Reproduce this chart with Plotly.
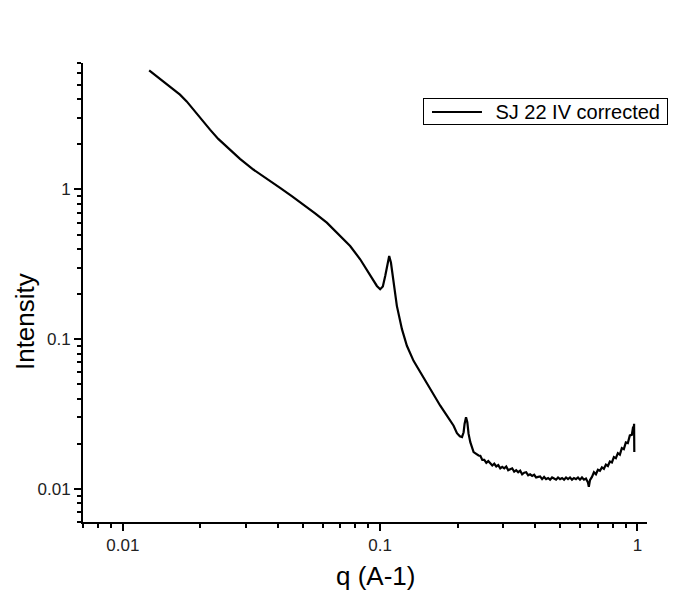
import plotly.graph_objects as go

# values (q in A^-1, intensity in a.u.)
q_smooth = [0.01265, 0.01393, 0.01524, 0.01667, 0.01770, 0.01877, 0.02024,
            0.02181, 0.02348, 0.02532, 0.02852, 0.03214, 0.03624, 0.04083,
            0.04534, 0.05030, 0.05586, 0.06203, 0.06389, 0.06990, 0.07643,
            0.08360, 0.0914, 0.09709, 0.1000, 0.1024, 0.1046, 0.1068, 0.1084,
            0.1101, 0.1127, 0.1161, 0.1215, 0.1270, 0.1348, 0.1431, 0.1519,
            0.1612, 0.1712, 0.1817, 0.1929, 0.1988, 0.2040, 0.2080, 0.2110,
            0.2128, 0.2156, 0.2181, 0.2206, 0.2240, 0.2307, 0.2412]
i_smooth = [6.24, 5.50, 4.884, 4.30, 3.878, 3.415, 2.929,
            2.51, 2.178, 1.944, 1.602, 1.359, 1.184, 1.026,
            0.902, 0.794, 0.692, 0.600, 0.569, 0.488, 0.419,
            0.3415, 0.264, 0.2266, 0.2154, 0.2246, 0.264, 0.3246, 0.359,
            0.3246, 0.2388, 0.1668, 0.1166, 0.0902, 0.0716, 0.0603, 0.0501,
            0.0419, 0.0359, 0.0308, 0.0264, 0.0235, 0.0224, 0.02213, 0.02387,
            0.0271, 0.0301, 0.02784, 0.02326, 0.0205, 0.01757, 0.01668]

q_noisy = [0.245, 0.2494, 0.2539, 0.2585, 0.2631, 0.2679, 0.2727, 0.2776,
           0.2826, 0.2877, 0.2929, 0.2981, 0.3035, 0.3090, 0.3145, 0.3202,
           0.3259, 0.3318, 0.3378, 0.3438, 0.3500, 0.3563, 0.3628, 0.3693,
           0.3759, 0.3827, 0.3896, 0.3966, 0.4037, 0.4110, 0.4184, 0.4259,
           0.4336, 0.4414, 0.4493, 0.4574, 0.4656, 0.4740, 0.4826, 0.4912,
           0.5001, 0.5091, 0.5183, 0.5276, 0.5371, 0.5468, 0.5566, 0.5666,
           0.5768, 0.5872, 0.5978, 0.6086, 0.6195, 0.6307, 0.6420, 0.6470,
           0.6536, 0.6654, 0.6773, 0.6895, 0.7019, 0.7146, 0.7274, 0.7405,
           0.7539, 0.7674, 0.7812, 0.7953, 0.8096, 0.8242, 0.8390, 0.8541,
           0.8695, 0.8852, 0.9011, 0.9173, 0.9338, 0.9506, 0.9600, 0.9677,
           0.9700, 0.9720]
i_noisy = [0.0166, 0.0156, 0.0156, 0.0149, 0.0153, 0.0148, 0.0143, 0.0147,
           0.0141, 0.0144, 0.0137, 0.0140, 0.0137, 0.0141, 0.0133, 0.0135,
           0.0137, 0.0130, 0.0133, 0.0129, 0.0132, 0.0125, 0.0128, 0.0129,
           0.0123, 0.0125, 0.0122, 0.0124, 0.0119, 0.0120, 0.0121, 0.0116,
           0.0120, 0.0116, 0.0118, 0.0115, 0.0119, 0.0117, 0.0115, 0.0119,
           0.0116, 0.0118, 0.0115, 0.0119, 0.0116, 0.0119, 0.0115, 0.0118,
           0.0116, 0.0119, 0.0115, 0.0119, 0.0115, 0.0117, 0.0110, 0.0103,
           0.0114, 0.0120, 0.0129, 0.0125, 0.0134, 0.0132, 0.0139, 0.0136,
           0.0145, 0.0142, 0.0152, 0.0150, 0.0163, 0.0160, 0.0173, 0.0169,
           0.0187, 0.0184, 0.0204, 0.0202, 0.0227, 0.0229, 0.0255, 0.0253,
           0.0272, 0.0176]

q = q_smooth + q_noisy
intensity = i_smooth + i_noisy
series_name = "SJ 22 IV corrected"

FONT = "Liberation Sans, Arial, sans-serif"

fig = go.Figure()
fig.add_trace(
    go.Scatter(
        x=q,
        y=intensity,
        mode="lines",
        name=series_name,
        line=dict(color="black", width=2.2),
    )
)

axis_common = dict(
    type="log",
    dtick=1,
    showline=True,
    linecolor="black",
    linewidth=2,
    ticks="outside",
    ticklen=7,
    tickwidth=1.5,
    tickcolor="black",
    showgrid=False,
    zeroline=False,
    tickfont=dict(family=FONT, size=17, color="#222"),
    minor=dict(ticks="outside", ticklen=4, tickwidth=1.5, tickcolor="black",
               dtick="D1", showgrid=False),
)
fig.update_xaxes(range=[-2.155, 0.037], **axis_common)
fig.update_yaxes(range=[-2.222, 0.845], **axis_common)

# page body adds an 8px offset, so the figure is 8px smaller than the window
fig.update_layout(
    width=670,
    height=586,
    margin=dict(l=75, r=31, t=55, b=72),
    plot_bgcolor="white",
    paper_bgcolor="white",
    showlegend=False,
    annotations=[
        dict(text="q (A-1)", x=0.5195, y=-0.1176,
             xref="paper", yref="paper", showarrow=False,
             xanchor="center", yanchor="middle",
             font=dict(family=FONT, size=26, color="black")),
        dict(text="Intensity", x=-0.1028, y=0.4357,
             xref="paper", yref="paper", showarrow=False, textangle=-90,
             xanchor="center", yanchor="middle",
             font=dict(family=FONT, size=26, color="black")),
        # legend box
        dict(text=series_name + " ", x=0.6028, y=0.9237,
             xref="paper", yref="paper", showarrow=False,
             xanchor="left", yanchor="top", align="right", width=240,
             bordercolor="black", borderwidth=1, borderpad=1.5,
             bgcolor="rgba(0,0,0,0)",
             font=dict(family=FONT, size=20, color="black")),
    ],
    shapes=[
        dict(type="line", xref="paper", yref="paper", layer="above",
             x0=0.6188, x1=0.7074, y0=0.8932, y1=0.8932,
             line=dict(color="black", width=2)),
    ],
)

fig.write_html("out.html")
